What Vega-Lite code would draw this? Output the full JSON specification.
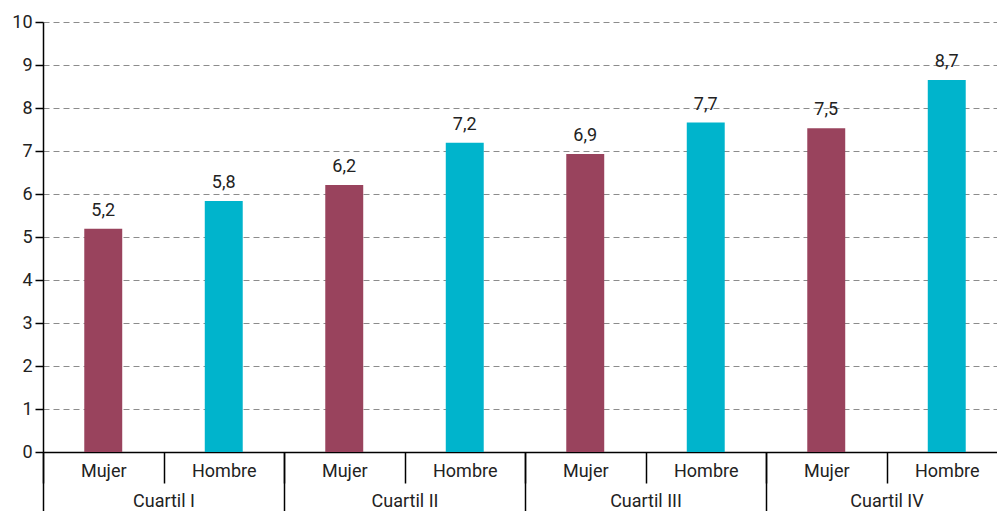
{
  "$schema": "https://vega.github.io/schema/vega-lite/v6.json",
  "width": 954,
  "height": 430,
  "autosize": {"type": "none"},
  "padding": {"left": 43, "top": 22, "right": 0, "bottom": 59},
  "background": "white",
  "config": {"view": {"stroke": null}, "font": "Roboto"},
  "data": {
    "values": [
      {"cuartil": "Cuartil I", "sexo": "Mujer", "clave": "I|Mujer", "valor": 5.19, "etiqueta": "5,2"},
      {"cuartil": "Cuartil I", "sexo": "Hombre", "clave": "I|Hombre", "valor": 5.84, "etiqueta": "5,8"},
      {"cuartil": "Cuartil II", "sexo": "Mujer", "clave": "II|Mujer", "valor": 6.21, "etiqueta": "6,2"},
      {"cuartil": "Cuartil II", "sexo": "Hombre", "clave": "II|Hombre", "valor": 7.19, "etiqueta": "7,2"},
      {"cuartil": "Cuartil III", "sexo": "Mujer", "clave": "III|Mujer", "valor": 6.93, "etiqueta": "6,9"},
      {"cuartil": "Cuartil III", "sexo": "Hombre", "clave": "III|Hombre", "valor": 7.66, "etiqueta": "7,7"},
      {"cuartil": "Cuartil IV", "sexo": "Mujer", "clave": "IV|Mujer", "valor": 7.53, "etiqueta": "7,5"},
      {"cuartil": "Cuartil IV", "sexo": "Hombre", "clave": "IV|Hombre", "valor": 8.65, "etiqueta": "8,7"}
    ]
  },
  "layer": [
    {
      "encoding": {
        "x": {
          "field": "clave", "type": "nominal", "sort": null,
          "scale": {"paddingInner": 0, "paddingOuter": 0, "range": [0, 964]},
          "axis": {
            "title": null, "orient": "bottom", "labelExpr": "split(datum.label,'|')[1]",
            "labelAngle": 0, "tickBand": "extent", "tickSize": 31, "tickColor": "#000", "tickWidth": 1.5,
            "domainColor": "#000", "domainWidth": 1.5, "labelPadding": -21, "labelBaseline": "top",
            "labelFont": "Roboto", "labelFontSize": 18, "labelColor": "#222", "grid": false
          }
        },
        "y": {
          "field": "valor", "type": "quantitative",
          "scale": {"domain": [0, 10], "nice": false},
          "axis": {
            "title": null, "values": [0, 1, 2, 3, 4, 5, 6, 7, 8, 9, 10],
            "tickSize": 8, "tickColor": "#000", "tickWidth": 1.5,
            "domainColor": "#000", "domainWidth": 1.5, "labelPadding": 3,
            "labelFont": "Roboto", "labelFontSize": 18, "labelColor": "#222",
            "grid": true, "gridDash": [6, 4], "gridColor": "#8c8c8c", "gridWidth": 1
          }
        }
      },
      "layer": [
        {
          "mark": {"type": "bar", "width": {"band": 0.315}},
          "encoding": {
            "color": {
              "field": "sexo", "type": "nominal",
              "scale": {"domain": ["Mujer", "Hombre"], "range": ["#99435D", "#00B4CC"]},
              "legend": null
            }
          }
        },
        {
          "mark": {"type": "text", "dy": -13, "baseline": "alphabetic", "font": "Roboto", "fontSize": 18, "color": "#222"},
          "encoding": {"text": {"field": "etiqueta"}}
        }
      ]
    },
    {
      "mark": {"type": "rule", "opacity": 0},
      "encoding": {
        "x": {
          "field": "cuartil", "type": "nominal",
          "sort": ["Cuartil I", "Cuartil II", "Cuartil III", "Cuartil IV"],
          "scale": {"paddingInner": 0, "paddingOuter": 0, "range": [0, 964]},
          "axis": {
            "title": null, "orient": "bottom", "labelAngle": 0, "tickBand": "extent",
            "tickSize": 59, "tickColor": "#000", "tickWidth": 1.5, "domain": false,
            "labelPadding": -19, "labelBaseline": "top",
            "labelFont": "Roboto", "labelFontSize": 18, "labelColor": "#222", "grid": false
          }
        },
        "y": {"field": "valor", "type": "quantitative"}
      }
    }
  ],
  "resolve": {"scale": {"x": "independent"}}
}
